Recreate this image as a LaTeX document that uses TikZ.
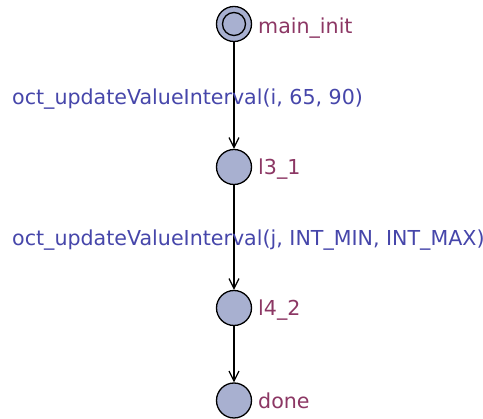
\documentclass[tikz,border=0pt]{standalone}
\usepackage{fontspec}
\setmainfont{DejaVu Sans}
\usetikzlibrary{arrows.meta}
\definecolor{locfill}{RGB}{168,176,208}
\definecolor{locname}{RGB}{140,55,100}
\definecolor{updcol}{RGB}{70,70,170}
\tikzset{
  loc/.style={circle,draw=black,line width=1.3pt,fill=locfill,minimum size=35pt,inner sep=0pt},
  initin/.style={circle,draw=black,line width=1.3pt,minimum size=23pt,inner sep=0pt},
  lname/.style={text=locname,font=\fontsize{20.6}{24}\selectfont,anchor=base west,inner sep=0pt},
  upd/.style={text=updcol,font=\fontsize{20.6}{24}\selectfont,anchor=base west,inner sep=0pt},
  trans/.style={draw=black,line width=1.2pt,-{Straight Barb[length=10pt,width=10pt,line width=1.2pt]}}
}
\begin{document}
\begin{tikzpicture}[x=1pt,y=-1pt]
\useasboundingbox (0,0) rectangle (483,419);
\node[loc] (init) at (234,24) {};
\node[initin] (initc) at (init.center) {};
\node[loc] (l31) at (234,167) {};
\node[loc] (l42) at (234,308) {};
\node[loc] (done) at (234,400.5) {};
\node[lname] (n1) at (258,34) {main\_init};
\node[lname] (n2) at (258,175) {l3\_1};
\node[lname] (n3) at (258,316) {l4\_2};
\node[lname] (n4) at (258,409) {done};
\draw[trans] (init) -- (l31);
\draw[trans] (l31) -- (l42);
\draw[trans] (l42) -- (done);
\node[upd] (u1) at (12,105) {oct\_updateValueInterval(i, 65, 90)};
\node[upd] (u2) at (12,246) {oct\_updateValueInterval(j, INT\_MIN, INT\_MAX)};
\end{tikzpicture}
\end{document}
